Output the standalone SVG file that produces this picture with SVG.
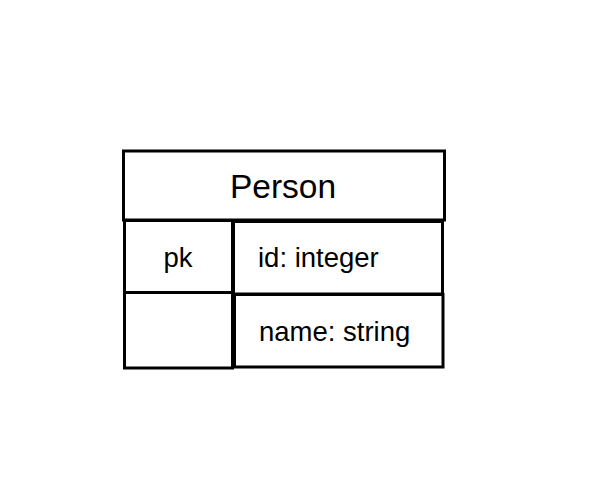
<svg xmlns="http://www.w3.org/2000/svg" width="590" height="480" viewBox="0 0 590 480">
<style>
.cell{fill:#fff;stroke:#000;stroke-width:3}
.t{font-family:"Liberation Sans",Arial,sans-serif;fill:#000}
.title{font-size:33.5px}
.f{font-size:27.5px}
</style>
<rect width="590" height="480" fill="#fff"/>
<g id="connectors"></g>
<g id="person-title">
<rect class="cell" x="123.5" y="151" width="321" height="69"/>
<text class="t title" x="283" y="197.5" text-anchor="middle">Person</text>
</g>
<g id="pk-cell">
<rect class="cell" x="124.5" y="220.5" width="108" height="72"/>
<text class="t f" x="178" y="266.5" text-anchor="middle">pk</text>
</g>
<g id="id-cell">
<rect class="cell" x="233.5" y="221.5" width="209" height="72.5"/>
<text class="t f" x="258" y="266.5">id: integer</text>
</g>
<g id="empty-cell">
<rect class="cell" x="124.5" y="292.5" width="108" height="75.5"/>
</g>
<g id="name-cell">
<rect class="cell" x="234.5" y="294.5" width="208.5" height="72.5"/>
<text class="t f" x="259" y="340.5">name: string</text>
</g>
</svg>
